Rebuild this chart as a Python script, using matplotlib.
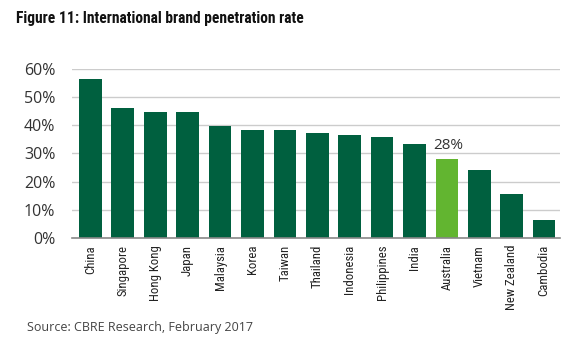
import matplotlib
matplotlib.use("Agg")
import matplotlib.pyplot as plt
from matplotlib import font_manager

# ── data ─────────────────────────────────────────────────────────────────────
countries = ["China", "Singapore", "Hong Kong", "Japan", "Malaysia", "Korea",
             "Taiwan", "Thailand", "Indonesia", "Philippines", "India",
             "Australia", "Vietnam", "New Zealand", "Cambodia"]
penetration = [56.3, 46.1, 44.9, 44.7, 39.8, 38.2, 38.2, 37.2, 36.7, 35.9,
               33.4, 27.9, 24.0, 15.6, 6.5]
highlight = "Australia"
yticks = [0, 10, 20, 30, 40, 50, 60]

DARK = "#00603f"
LIGHT = "#62b530"

# pick a narrow face if one is installed
names = {f.name for f in font_manager.fontManager.ttflist}
narrow = None
for cand in ["Roboto Condensed", "Liberation Sans Narrow", "Open Sans Condensed",
             "DejaVu Sans Condensed"]:
    if cand in names:
        narrow = cand
        break
if narrow is None:
    narrow = "Roboto"
    title_size, xlab_size = 10, 8.5
else:
    title_size, xlab_size = 11.2, 9.2

fig = plt.figure(figsize=(5.8, 3.52), dpi=100)
ax = fig.add_axes([0.124, 0.324, 0.8415, 0.48])

colors = [LIGHT if c == highlight else DARK for c in countries]
x = range(len(countries))
ax.bar(x, penetration, width=0.7, color=colors, zorder=3)

hi = countries.index(highlight)
ax.text(hi + 0.05, penetration[hi] + 2.2, f"{round(penetration[hi])}%", ha="center",
        va="bottom", fontsize=11, color="#333333", family="Open Sans")

ax.set_xlim(-0.57, 14.49)
ax.set_ylim(0, 60)
ax.set_yticks(yticks)
ax.set_yticklabels([f"{t}%" for t in yticks], fontsize=11.5, color="#333333",
                   family="Open Sans")
ax.set_xticks(list(x))
ax.set_xticklabels(countries, rotation=90, fontsize=xlab_size, family=narrow,
                   color="#222222")
ax.tick_params(axis="x", length=0, pad=5)
ax.tick_params(axis="y", length=0, pad=12)

ax.grid(axis="y", color="#cccccc", lw=1, zorder=0)
for s in ["top", "right", "left"]:
    ax.spines[s].set_visible(False)
ax.spines["bottom"].set_color("#888888")
ax.spines["bottom"].set_linewidth(1.2)
ax.spines["bottom"].set_zorder(4)

fig.text(0.028, 0.947, "Figure 11: International brand penetration rate",
         fontsize=title_size, fontweight="bold", family=narrow, color="#111111",
         va="center")
fig.text(0.047, 0.07, "Source: CBRE Research, February 2017", fontsize=9,
         color="#444444", family="Open Sans", va="center")

fig.savefig("out.png", dpi=100)
